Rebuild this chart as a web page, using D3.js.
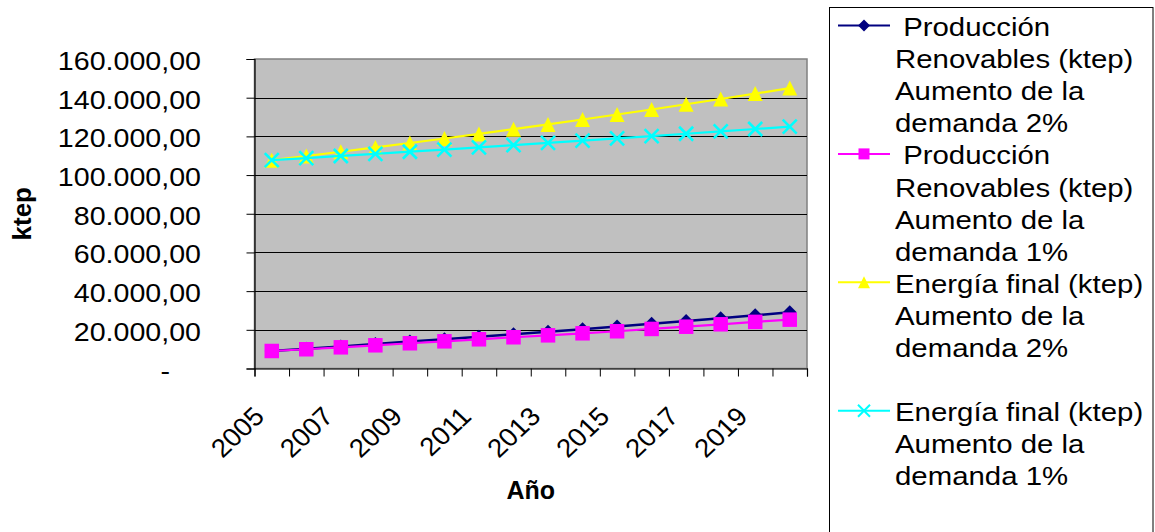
<!DOCTYPE html>
<html>
<head>
<meta charset="utf-8">
<script src="https://cdn.jsdelivr.net/npm/d3@7"></script>
<style>
  html, body { margin: 0; padding: 0; background: #fff; }
  svg { display: block; }
  text { font-family: "Liberation Sans", Arial, sans-serif; fill: #000; }
</style>
</head>
<body>
<svg id="chart" width="1155" height="532"></svg>
<script>
// Years on the category axis
const years = [2005, 2006, 2007, 2008, 2009, 2010, 2011, 2012, 2013, 2014, 2015, 2016, 2017, 2018, 2019, 2020];

// Series values (ktep)
const renovables2 = [9050, 10200, 11400, 12650, 13900, 15150, 16400, 17700, 19000, 20350, 21700, 23100, 24550, 26000, 27500, 29050];
const renovables1 = [9050, 9950, 10950, 12000, 13050, 14050, 15100, 16150, 17150, 18200, 19250, 20450, 21600, 22850, 24100, 25250];
const energia2 = [107700, 109850, 112050, 114290, 116580, 118910, 121290, 123710, 126190, 128710, 131290, 133910, 136590, 139320, 142110, 144950];
const energia1 = [107700, 108780, 109870, 110960, 112070, 113190, 114330, 115470, 116620, 117790, 118970, 120160, 121360, 122570, 123800, 125040];

// Value axis ticks
const yTicks = [0, 20000, 40000, 60000, 80000, 100000, 120000, 140000, 160000];
const yTickLabels = ["-", "20.000,00", "40.000,00", "60.000,00", "80.000,00", "100.000,00", "120.000,00", "140.000,00", "160.000,00"];
// Category labels shown (every second year)
const xTickLabels = ["2005", "2007", "2009", "2011", "2013", "2015", "2017", "2019"];

// Legend text, one array of lines per series
const legendLines = [
  [" Producción", "Renovables (ktep)", "Aumento de la", "demanda 2%"],
  [" Producción", "Renovables (ktep)", "Aumento de la", "demanda 1%"],
  ["Energía final (ktep)", "Aumento de la", "demanda 2%", ""],
  ["Energía final (ktep)", "Aumento de la", "demanda 1%"]
];

const series = [
  { values: renovables2, color: "#000080", marker: "diamond" },
  { values: renovables1, color: "#FF00FF", marker: "square" },
  { values: energia2, color: "#FFFF00", marker: "triangle" },
  { values: energia1, color: "#00FFFF", marker: "cross" }
];

const svg = d3.select("#chart");
const plot = { left: 254.5, right: 807, top: 59, bottom: 368.5 };

const x = d3.scaleBand().domain(years).range([plot.left, plot.right]);
const y = d3.scaleLinear().domain([0, 160000]).range([plot.bottom, plot.top]);

// Plot area background
svg.append("rect")
  .attr("x", plot.left).attr("y", plot.top)
  .attr("width", plot.right - plot.left).attr("height", plot.bottom - plot.top)
  .attr("fill", "#C0C0C0")
  .attr("stroke", "#808080").attr("stroke-width", 1.5);

// Horizontal gridlines
svg.append("g")
  .selectAll("line")
  .data(yTicks.filter(t => t > 0 && t < 160000))
  .join("line")
  .attr("x1", plot.left).attr("x2", plot.right)
  .attr("y1", d => Math.round(y(d)) + 0.5).attr("y2", d => Math.round(y(d)) + 0.5)
  .attr("stroke", "#000").attr("stroke-width", 1);

// Value axis
const yAxis = d3.axisLeft(y).tickValues(yTicks).tickSize(8).tickFormat("");
const gy = svg.append("g").attr("transform", `translate(${plot.left},0)`).call(yAxis);
gy.select(".domain").attr("stroke", "#000").attr("stroke-width", 1.2);
gy.selectAll(".tick line").attr("stroke", "#000");

// Category axis: ticks on band boundaries
const xb = d3.scaleLinear().domain([0, years.length]).range([plot.left, plot.right]);
const xAxis = d3.axisBottom(xb).tickValues(d3.range(0, years.length + 1)).tickSize(8).tickFormat("");
const gx = svg.append("g").attr("transform", `translate(0,${plot.bottom})`).call(xAxis);
gx.select(".domain").attr("stroke", "#000").attr("stroke-width", 1.2);
gx.selectAll(".tick line").attr("stroke", "#000");

// Text helper with a horizontal stretch applied after any rotation
function stext(parent, tx, ty, str, opts) {
  const g = parent.append("g")
    .attr("transform", `translate(${tx},${ty}) scale(${opts.sx || 1},1) ${opts.rotate ? "rotate(" + opts.rotate + ")" : ""}`);
  const t = g.append("text")
    .attr("x", 0).attr("y", 0)
    .attr("font-size", opts.size || 26)
    .attr("text-anchor", opts.anchor || "start")
    .style("white-space", "pre")
    .text(str);
  if (opts.bold) t.attr("font-weight", "bold");
  return t;
}

// Value tick labels
yTicks.forEach((t, i) => {
  const lx = t === 0 ? 170 : 201;
  stext(svg, lx, y(t) + 11, yTickLabels[i], { anchor: "end", sx: 1.1, size: 26 });
});

// Category tick labels, rotated
xTickLabels.forEach(lbl => {
  const cx = x(+lbl) + x.bandwidth() / 2;
  stext(svg, cx - 6, 418, lbl, { anchor: "end", rotate: -45, sx: 1.06, size: 26 });
});

// Axis titles
stext(svg, (plot.left + plot.right) / 2, 498.5, "Año", { anchor: "middle", bold: true, size: 25 });
stext(svg, 31, (plot.top + plot.bottom) / 2, "ktep", { anchor: "middle", bold: true, size: 26, rotate: -90 });

// Marker shapes
function drawMarker(g, shape, color, size) {
  const r = size / 2;
  if (shape === "diamond") {
    g.append("path").attr("d", `M0,${-r}L${r},0L0,${r}L${-r},0Z`).attr("fill", color);
  } else if (shape === "square") {
    g.append("rect").attr("x", -r).attr("y", -r).attr("width", size).attr("height", size).attr("fill", color);
  } else if (shape === "triangle") {
    g.append("path").attr("d", `M0,${-r}L${r},${r}L${-r},${r}Z`).attr("fill", color);
  } else if (shape === "cross") {
    g.append("path").attr("d", `M${-r},${-r}L${r},${r}M${-r},${r}L${r},${-r}`).attr("stroke", color).attr("stroke-width", size > 12 ? 2.6 : 2).attr("fill", "none");
  }
}

const line = d3.line()
  .x((d, i) => x(years[i]) + x.bandwidth() / 2)
  .y(d => y(d));

const markerSize = { diamond: 14, square: 14.5, triangle: 15, cross: 14 };

series.forEach(s => {
  const g = svg.append("g");
  g.append("path")
    .attr("d", line(s.values))
    .attr("fill", "none")
    .attr("stroke", s.color)
    .attr("stroke-width", s.marker === "diamond" ? 2.5 : 2.2);
  s.values.forEach((v, i) => {
    const mg = g.append("g").attr("transform", `translate(${x(years[i]) + x.bandwidth() / 2},${y(v)})`);
    drawMarker(mg, s.marker, s.color, markerSize[s.marker]);
  });
});

// Legend
const legend = svg.append("g");
legend.append("rect")
  .attr("x", 829.5).attr("y", 7.5)
  .attr("width", 323.5).attr("height", 540)
  .attr("fill", "#fff").attr("stroke", "#000").attr("stroke-width", 1);

const lineH = 32.1;
const legendMarkerSize = { diamond: 12, square: 11, triangle: 12, cross: 12 };
series.forEach((s, i) => {
  const base = 36 + i * 4 * lineH;
  const sy = base - 10.5;
  legend.append("line")
    .attr("x1", 838).attr("x2", 890)
    .attr("y1", sy).attr("y2", sy)
    .attr("stroke", s.color).attr("stroke-width", 2);
  const mg = legend.append("g").attr("transform", `translate(864,${sy})`);
  drawMarker(mg, s.marker, s.color, legendMarkerSize[s.marker]);
  legendLines[i].forEach((ln, j) => {
    if (ln) stext(legend, 895, base + j * lineH, ln, { sx: 1.13, size: 26 });
  });
});
</script>
</body>
</html>
